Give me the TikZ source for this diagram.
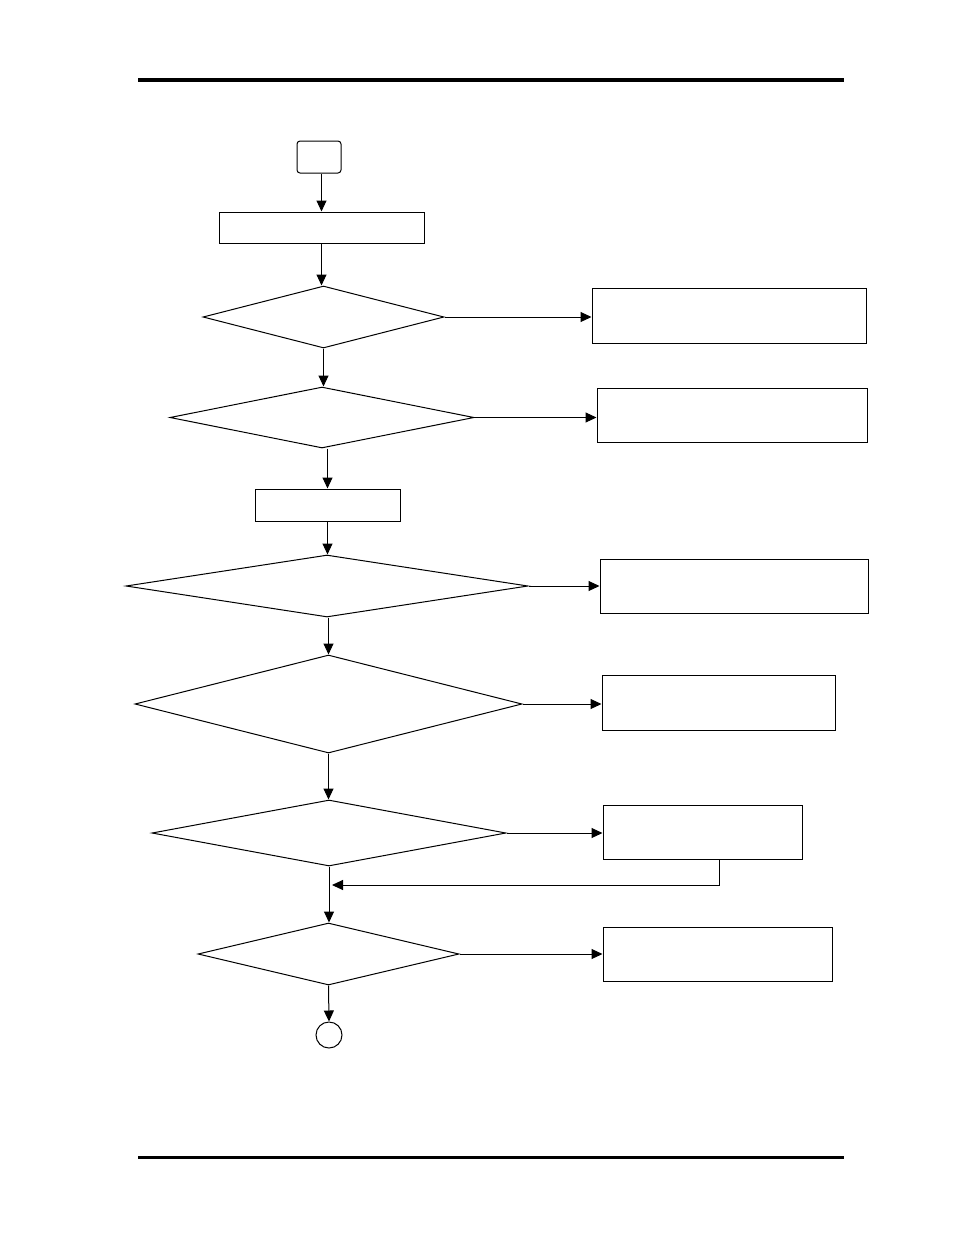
\documentclass[tikz,border=0pt]{standalone}
\usepackage{tikz}
\usetikzlibrary{arrows.meta,positioning,calc,shapes.geometric}

\begin{document}
\begin{tikzpicture}[
    x=1pt, y=-1pt,
    >={Triangle[length=11pt,width=10pt]},
    line width=1pt,
    terminal/.style={draw, rounded corners=3pt, inner sep=0pt, minimum width=44pt, minimum height=32pt},
    process/.style={draw, inner sep=0pt},
    decision/.style={draw, diamond, inner sep=0pt},
    action/.style={draw, inner sep=0pt},
    flow/.style={->, line width=1pt}
]
\useasboundingbox (0,0) rectangle (954,1235);
% page rules
\draw[line width=4pt] (138,80) -- (844,80);
\draw[line width=3pt] (138,1157) -- (844,1157);
% main column
\node[terminal] (start) at (319,157) {};
\node[process, minimum width=205pt, minimum height=31pt] (setup) at (321.5,227.5) {};
\node[decision, minimum width=241pt, minimum height=62pt] (chkone) at (323.5,317) {};
\node[decision, minimum width=304pt, minimum height=61pt] (chktwo) at (322,417.5) {};
\node[process, minimum width=145pt, minimum height=32pt] (prep) at (327.5,505) {};
\node[decision, minimum width=402pt, minimum height=62pt] (chkthree) at (327,586) {};
\node[decision, minimum width=387pt, minimum height=98pt] (chkfour) at (328.5,704) {};
\node[decision, minimum width=354pt, minimum height=66pt] (chkfive) at (329,833) {};
\node[decision, minimum width=261pt, minimum height=62pt] (chksix) at (328.5,954) {};
\node[draw, circle, inner sep=0pt, minimum size=26pt] (stop) at (329,1035) {};
% right column
\node[action, minimum width=274pt, minimum height=55pt] (fixone) at (729,315.5) {};
\node[action, minimum width=270pt, minimum height=54pt] (fixtwo) at (732,415) {};
\node[action, minimum width=268pt, minimum height=54pt] (fixthree) at (734,586) {};
\node[action, minimum width=233pt, minimum height=55pt] (fixfour) at (718.5,702.5) {};
\node[action, minimum width=199pt, minimum height=54pt] (fixfive) at (702.5,832) {};
\node[action, minimum width=229pt, minimum height=54pt] (fixsix) at (717.5,954) {};
\coordinate (back) at (332,885);
% down the column
\draw[flow] (setup.north |- start.south) -- (setup.north);
\draw[flow] (setup.south) -- (setup.south |- chkone.north);
\draw[flow] (chkone.south) -- (chkone.south |- chktwo.north);
\draw[flow] (prep.north |- chktwo.south) -- (prep.north);
\draw[flow] (prep.south) -- (prep.south |- chkthree.north);
\draw[flow] (chkfour.north |- chkthree.south) -- (chkfour.north);
\draw[flow] (chkfour.south) -- (chkfour.south |- chkfive.north);
\draw[flow] (chkfive.south) -- (chkfive.south |- chksix.north);
\draw[flow] (chksix.south) -- (stop.north);
% to the right
\draw[flow] (chkone.east) -- (fixone.west |- chkone.east);
\draw[flow] (chktwo.east) -- (fixtwo.west |- chktwo.east);
\draw[flow] (chkthree.east) -- (fixthree.west |- chkthree.east);
\draw[flow] (chkfour.east) -- (fixfour.west |- chkfour.east);
\draw[flow] (chkfive.east) -- (fixfive.west |- chkfive.east);
\draw[flow] (chksix.east) -- (fixsix.west |- chksix.east);
% back into the column
\draw[flow] ([xshift=16.5pt]fixfive.south) |- (back);
\end{tikzpicture}
\end{document}
